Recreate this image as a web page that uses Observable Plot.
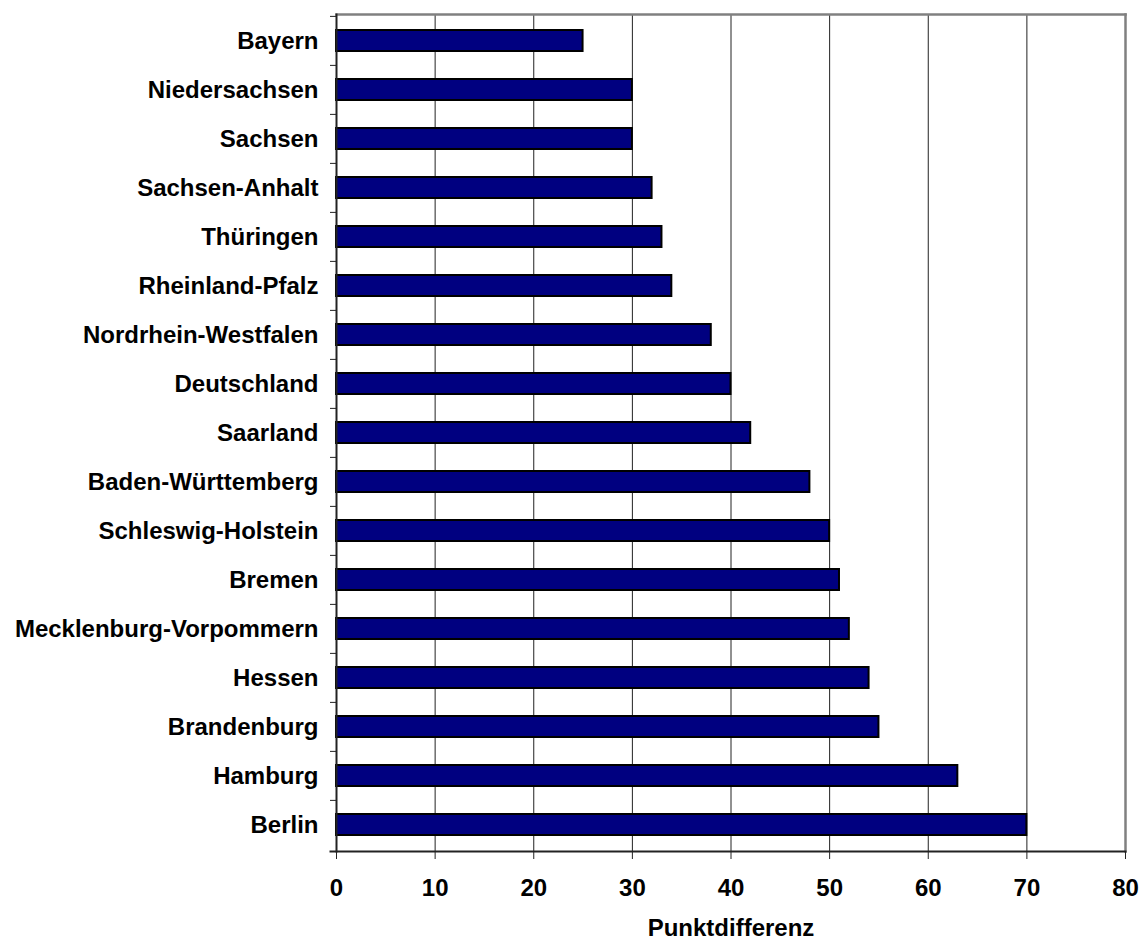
<!DOCTYPE html>
<html>
<head>
<meta charset="utf-8">
<script src="https://cdn.jsdelivr.net/npm/d3@7"></script>
<script src="https://cdn.jsdelivr.net/npm/@observablehq/plot@0.6"></script>
<style>
  html, body { margin: 0; padding: 0; background: #fff; }
  #chart svg { display: block; }
</style>
</head>
<body>
<div id="chart"></div>
<script>
const categories = [
  "Bayern", "Niedersachsen", "Sachsen", "Sachsen-Anhalt", "Thüringen",
  "Rheinland-Pfalz", "Nordrhein-Westfalen", "Deutschland", "Saarland",
  "Baden-Württemberg", "Schleswig-Holstein", "Bremen",
  "Mecklenburg-Vorpommern", "Hessen", "Brandenburg", "Hamburg", "Berlin"
];
const values = [25, 30, 30, 32, 33, 34, 38, 40, 42, 48, 50, 51, 52, 54, 55, 63, 70];
const xTicks = [0, 10, 20, 30, 40, 50, 60, 70, 80];
const xTitle = "Punktdifferenz";

const data = categories.map((name, i) => ({name, value: values[i]}));

const W = 1142, H = 943;
const mL = 336, mR = 17, mT = 14, mB = 92;
const step = (H - mT - mB) / categories.length;
const FS = 24;

const chart = Plot.plot({
  width: W,
  height: H,
  marginLeft: mL,
  marginRight: mR,
  marginTop: mT,
  marginBottom: mB,
  style: {fontFamily: "'Liberation Sans', Arial, sans-serif", fontSize: FS + "px", fontWeight: "bold", color: "#000", background: "#fff"},
  x: {domain: [0, 80], ticks: xTicks},
  y: {domain: categories, paddingInner: 0.57, paddingOuter: 0.285},
  marks: [
    Plot.gridX(xTicks, {stroke: "#222", strokeOpacity: 1, strokeWidth: 1}),
    Plot.frame({anchor: "top", stroke: "#808080", strokeWidth: 2.5}),
    Plot.frame({anchor: "right", stroke: "#808080", strokeWidth: 2.5}),
    Plot.barX(data, {x: "value", y: "name", fill: "#000080", stroke: "#000", strokeWidth: 2}),
    Plot.frame({anchor: "left", stroke: "#222", strokeWidth: 2}),
    Plot.frame({anchor: "bottom", stroke: "#222", strokeWidth: 2, insetLeft: -6}),
    Plot.axisY({tickSize: 0, tickPadding: 18, label: null, fontSize: FS, fontWeight: "bold"}),
    Plot.axisY({tickSize: 6, tickFormat: () => "", label: null, dy: -step / 2, stroke: "#222"}),
    Plot.axisX({ticks: xTicks, tickSize: 8, tickPadding: 19, label: null, fontSize: FS, fontWeight: "bold", stroke: "#222"}),
    Plot.text([xTitle], {frameAnchor: "bottom", dy: 84, fontSize: FS, fontWeight: "bold", fill: "#000"})
  ]
});
document.getElementById("chart").appendChild(chart);
</script>
</body>
</html>
